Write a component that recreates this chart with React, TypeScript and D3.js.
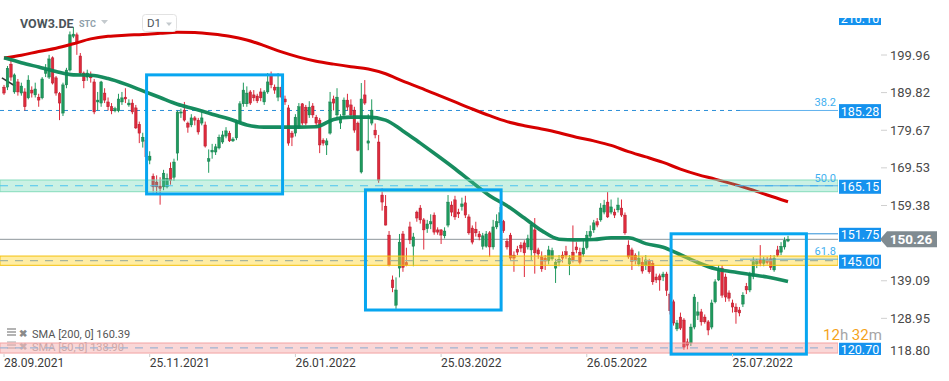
import React from "react";
import * as d3 from "d3";

// [open, high, low, close]
const candles: [number, number, number, number][] = [
  [191.3, 191.9, 189.2, 189.7], [191.3, 197.0, 190.5, 196.4], [197.5, 198.6, 193.0, 194.0], [190.0, 195.0, 189.5, 194.6],
  [192.7, 193.5, 189.0, 190.0], [189.7, 192.5, 189.0, 191.6], [190.0, 191.0, 185.0, 186.0], [188.4, 194.5, 188.0, 193.2],
  [190.5, 191.5, 188.5, 189.7], [189.2, 192.5, 188.5, 190.8], [188.6, 189.5, 186.0, 187.8], [188.4, 194.0, 188.0, 193.5],
  [195.0, 197.5, 194.0, 195.9], [194.0, 200.0, 193.5, 198.9], [199.2, 199.6, 192.0, 192.4], [193.8, 194.3, 189.0, 189.7],
  [189.5, 190.0, 182.4, 187.0], [184.3, 192.5, 183.5, 191.9], [191.9, 196.5, 191.0, 195.9], [195.9, 206.3, 195.5, 205.4],
  [205.0, 207.5, 204.5, 205.6], [205.4, 206.0, 200.0, 203.5], [199.7, 200.5, 194.5, 195.1], [195.1, 195.5, 191.0, 193.0],
  [194.0, 196.0, 193.0, 195.1], [194.6, 195.5, 192.5, 193.8], [192.7, 193.5, 184.0, 184.6], [187.3, 190.0, 185.0, 187.8],
  [187.0, 193.0, 186.0, 192.7], [189.7, 191.0, 187.0, 187.8], [187.3, 188.5, 185.0, 186.0], [186.0, 187.0, 184.0, 184.9],
  [184.9, 186.0, 184.5, 185.5], [184.9, 189.5, 184.5, 188.1], [187.3, 190.0, 186.5, 188.4], [188.6, 191.0, 187.0, 188.1],
  [186.5, 188.0, 186.0, 187.0], [187.0, 188.0, 184.0, 184.6], [185.7, 186.5, 180.0, 180.3], [181.3, 182.0, 176.2, 178.9],
  [176.7, 179.0, 175.0, 177.8], [177.0, 177.5, 171.0, 172.5], [171.6, 174.0, 170.5, 172.7], [167.3, 168.0, 162.9, 164.4],
  [165.7, 167.5, 162.7, 164.4], [164.6, 167.0, 159.6, 164.0], [164.4, 169.0, 163.5, 168.1], [164.4, 168.0, 164.0, 166.7],
  [169.4, 171.0, 165.0, 166.2], [167.0, 172.0, 166.0, 171.1], [173.5, 185.0, 171.5, 184.6], [184.3, 185.5, 183.0, 184.6],
  [185.1, 187.3, 182.0, 182.4], [181.6, 182.0, 179.0, 180.5], [181.1, 184.0, 180.5, 183.0], [183.0, 183.5, 181.0, 182.4],
  [182.4, 183.0, 178.5, 179.2], [181.6, 184.6, 181.0, 183.0], [181.1, 182.0, 175.0, 175.4], [171.3, 174.5, 168.2, 172.0],
  [173.8, 176.0, 172.0, 174.3], [173.8, 176.0, 173.0, 175.2], [174.9, 178.5, 174.5, 177.8], [176.5, 179.5, 176.0, 178.4],
  [178.1, 180.5, 177.5, 179.5], [178.9, 179.5, 176.5, 176.8], [176.8, 177.8, 176.5, 177.3], [177.6, 182.5, 177.0, 181.9],
  [181.9, 187.5, 181.5, 186.8], [186.8, 192.5, 186.0, 190.5], [186.8, 191.5, 186.0, 189.7], [190.0, 190.5, 186.5, 187.0],
  [189.2, 190.5, 187.5, 188.4], [188.9, 189.5, 187.0, 187.6], [190.0, 191.0, 187.5, 188.4], [187.3, 190.5, 186.5, 190.0],
  [190.0, 195.1, 189.5, 192.7], [194.6, 195.5, 191.0, 191.9], [191.3, 192.0, 189.5, 190.5], [188.6, 195.1, 187.5, 191.3],
  [191.3, 192.0, 188.0, 188.6], [188.1, 189.0, 186.5, 187.3], [185.7, 186.5, 175.5, 176.2], [178.9, 179.5, 175.4, 177.8],
  [178.9, 184.0, 178.0, 183.2], [180.5, 187.0, 180.0, 186.0], [186.8, 187.0, 181.0, 181.6], [185.9, 186.5, 181.0, 181.6],
  [183.8, 187.5, 183.0, 185.9], [186.2, 187.0, 183.0, 183.8], [183.2, 183.8, 181.0, 181.6], [182.4, 183.0, 173.5, 175.7],
  [177.0, 177.5, 175.5, 176.2], [175.7, 177.5, 173.0, 176.8], [178.9, 190.0, 178.5, 187.3], [188.1, 189.0, 185.0, 187.0],
  [183.8, 191.0, 183.0, 188.6], [181.6, 184.0, 180.0, 183.0], [183.8, 188.5, 183.0, 187.8], [187.8, 189.5, 185.0, 185.9],
  [186.5, 188.0, 183.0, 183.8], [185.1, 186.0, 179.0, 179.7], [181.6, 182.0, 174.0, 174.3], [168.4, 192.4, 168.0, 188.1],
  [189.2, 193.2, 186.5, 187.0], [176.2, 184.0, 174.3, 176.8], [181.6, 188.0, 181.0, 185.1], [179.7, 181.5, 177.5, 178.4],
  [176.5, 178.4, 165.5, 166.2], [162.2, 164.0, 158.0, 160.3], [159.2, 162.2, 154.0, 154.1], [151.4, 152.5, 143.0, 143.3],
  [139.3, 140.5, 136.0, 137.2], [132.5, 140.0, 131.5, 136.6], [142.5, 151.7, 140.0, 149.5], [151.7, 152.5, 141.5, 142.7],
  [144.0, 148.0, 143.0, 143.3], [153.6, 155.0, 149.0, 150.1], [148.4, 152.0, 143.0, 150.9], [157.6, 158.0, 155.0, 156.0],
  [158.7, 159.5, 154.5, 155.5], [155.5, 156.0, 147.5, 152.8], [153.1, 155.5, 152.0, 154.4], [154.4, 157.0, 153.0, 155.0],
  [156.8, 157.5, 151.5, 152.2], [152.8, 153.5, 151.5, 152.2], [152.8, 153.0, 149.0, 151.4], [151.2, 153.5, 150.5, 152.5],
  [154.1, 162.2, 153.5, 160.3], [159.5, 160.5, 156.5, 157.6], [160.9, 162.0, 155.5, 156.3], [157.6, 158.5, 156.0, 157.1],
  [159.1, 161.5, 158.0, 159.8], [160.1, 162.0, 156.0, 156.8], [156.3, 157.0, 151.5, 152.0], [153.3, 154.0, 148.9, 149.5],
  [153.0, 155.0, 151.0, 152.0], [151.7, 152.5, 150.0, 150.9], [148.4, 152.0, 147.5, 151.2], [148.4, 152.5, 148.0, 151.7],
  [152.0, 152.5, 145.5, 148.2], [148.2, 155.5, 147.5, 153.6], [153.6, 157.0, 153.0, 155.0], [154.7, 159.0, 154.0, 157.4],
  [155.0, 155.5, 152.0, 152.6], [149.7, 150.5, 147.5, 148.2], [151.4, 152.0, 144.5, 145.2], [146.0, 147.0, 141.5, 145.2],
  [147.6, 148.5, 146.0, 146.8], [148.7, 149.5, 146.8, 147.9], [149.3, 150.0, 140.1, 146.6], [148.2, 151.5, 147.5, 150.4],
  [147.4, 155.0, 144.5, 154.1], [152.8, 156.0, 141.0, 146.6], [147.4, 148.0, 145.0, 146.3], [145.5, 147.0, 141.5, 142.3],
  [145.2, 146.0, 142.0, 144.4], [144.5, 148.5, 143.5, 147.4], [145.0, 148.0, 144.5, 147.2], [142.5, 145.0, 138.5, 144.1],
  [144.1, 146.0, 143.0, 144.9], [146.0, 147.0, 144.0, 145.2], [146.9, 148.5, 145.0, 146.0], [143.6, 146.0, 140.6, 145.2],
  [146.8, 154.0, 144.0, 144.7], [148.2, 149.5, 146.5, 147.4], [146.8, 148.0, 143.5, 144.1], [146.3, 150.2, 145.5, 147.9],
  [148.0, 152.5, 147.5, 151.4], [151.1, 154.0, 150.5, 152.4], [152.8, 155.5, 152.0, 154.7], [155.0, 156.0, 153.5, 154.1],
  [155.5, 160.0, 155.0, 158.7], [157.6, 160.9, 157.0, 159.5], [160.3, 163.0, 156.0, 156.3], [157.6, 161.0, 157.0, 159.0],
  [157.6, 158.5, 156.0, 156.8], [158.2, 161.5, 157.5, 159.5], [158.7, 161.0, 156.3, 156.8], [156.8, 157.5, 151.5, 152.0],
  [148.7, 150.0, 145.0, 145.5], [147.4, 148.0, 142.0, 144.2], [146.0, 146.5, 143.5, 144.7], [143.6, 147.0, 143.0, 145.2],
  [144.1, 145.5, 141.0, 141.7], [143.3, 146.0, 142.0, 144.7], [144.4, 145.0, 141.0, 141.5], [143.8, 144.5, 138.0, 138.8],
  [140.1, 141.0, 138.5, 139.3], [140.4, 141.0, 136.4, 139.3], [140.1, 141.5, 139.0, 140.9], [140.9, 141.5, 135.0, 136.5],
  [135.5, 136.0, 130.0, 131.0], [133.4, 134.0, 127.0, 127.7], [126.1, 128.5, 125.5, 127.7], [129.3, 130.5, 125.8, 126.3],
  [128.5, 129.0, 120.5, 121.2], [122.6, 123.5, 120.6, 121.7], [122.3, 127.5, 121.5, 126.6], [126.6, 135.5, 126.0, 134.7],
  [129.8, 133.4, 128.5, 130.7], [130.7, 131.5, 127.0, 128.0], [129.3, 130.0, 127.5, 128.0], [128.0, 128.5, 124.4, 125.8],
  [126.6, 134.0, 126.0, 133.1], [133.4, 139.5, 133.0, 138.8], [139.3, 143.3, 139.0, 142.0], [142.5, 143.3, 134.5, 135.2],
  [140.1, 141.0, 133.4, 134.7], [135.8, 136.5, 133.5, 134.4], [133.1, 134.0, 130.5, 132.0], [132.0, 133.0, 127.5, 130.7],
  [131.2, 132.0, 129.5, 130.4], [132.8, 136.0, 132.0, 135.2], [137.6, 138.5, 135.5, 136.6], [136.6, 141.5, 136.0, 140.9],
  [140.3, 145.5, 139.5, 144.2], [143.6, 145.0, 142.5, 144.4], [144.7, 148.7, 143.0, 143.8], [143.8, 145.5, 143.0, 144.7],
  [144.7, 145.5, 143.5, 144.0], [145.0, 146.0, 142.0, 142.7], [142.0, 146.0, 141.5, 145.2], [147.4, 148.5, 145.5, 146.0],
  [146.8, 149.5, 146.0, 148.4], [148.2, 150.8, 147.5, 149.9], [149.8, 151.2, 149.5, 150.26],
];

// [candle index, value]
const sma200: [number, number][] = [
  [0, 199.15], [5, 199.9], [10, 200.9], [15, 201.8], [20, 203.0], [25, 204.3], [30, 205.0], [35, 205.3], [40, 205.5],
  [45, 205.8], [50, 206.1], [55, 206.0], [60, 205.6], [65, 205.0], [70, 204.0], [75, 202.5], [80, 200.8], [85, 199.4],
  [90, 198.3], [95, 197.5], [100, 196.8], [105, 196.2], [110, 194.9], [115, 192.9], [120, 191.1], [125, 189.2],
  [130, 187.3], [135, 185.4], [140, 183.6], [145, 182.0], [150, 180.9], [155, 180.0], [160, 179.0], [165, 177.8],
  [170, 176.8], [175, 175.6], [180, 173.9], [185, 172.5], [190, 171.0], [195, 169.2], [200, 167.7], [205, 166.5],
  [210, 165.2], [215, 163.8], [220, 162.2], [226, 160.39],
];
const sma50: [number, number][] = [
  [0, 199.2], [5, 197.9], [10, 196.7], [15, 195.5], [20, 194.6], [25, 194.5], [30, 193.6], [35, 192.1], [40, 190.3],
  [45, 188.5], [50, 186.7], [55, 185.4], [60, 184.0], [65, 182.7], [70, 181.1], [75, 180.5], [80, 180.5], [85, 180.5],
  [90, 180.6], [95, 182.6], [100, 183.2], [105, 183.2], [110, 182.4], [115, 179.5], [120, 176.2], [125, 172.8],
  [130, 169.3], [135, 165.6], [140, 162.0], [145, 159.3], [150, 156.0], [155, 152.6], [160, 150.3], [165, 150.1],
  [170, 150.2], [175, 150.7], [180, 150.7], [185, 149.1], [190, 148.1], [195, 146.1], [200, 144.0], [205, 142.3],
  [210, 141.5], [215, 140.8], [220, 140.1], [226, 138.9],
];

const dateTicks = [
  { i: 0, label: "28.09.2021" }, { i: 42, label: "25.11.2021" }, { i: 84, label: "26.01.2022" },
  { i: 126, label: "25.03.2022" }, { i: 168, label: "26.05.2022" }, { i: 210, label: "25.07.2022" },
];
const priceTicks = [199.96, 189.82, 179.67, 169.53, 159.38, 139.09, 128.95, 118.8];

const zones = [
  { top: 166.25, bottom: 163.1, line: 164.7, fill: "#4fd1a5", op: 0.3, border: "#86dcbc", dash: "#4cc3ee" },
  { top: 145.75, bottom: 143.25, line: 144.5, fill: "#ffd633", op: 0.45, border: "#f4c20d", dash: "#a8b49a" },
  { top: 122.3, bottom: 119.6, line: 121.0, fill: "#f28b8b", op: 0.35, border: "#f2a3a3", dash: "#9fb4d2" },
];
const fibLevels = [
  { label: "38.2", value: 185.0, textValue: 187.4 },
  { label: "50.0", value: 164.7, textValue: 166.7 },
  { label: "61.8", value: 144.9, textValue: 147.0 },
];
const boxes = [
  { i0: 41.1, i1: 80.3, top: 194.6, bottom: 162.5 },
  { i0: 104.2, i1: 143.3, top: 163.6, bottom: 131.2 },
  { i0: 192.3, i1: 231.3, top: 151.75, bottom: 119.3 },
];
const priceLabels = [
  { value: 210.2, label: "210.10" },
  { value: 185.1, label: "185.28" },
  { value: 164.7, label: "165.15" },
  { value: 151.75, label: "151.75" },
  { value: 144.5, label: "145.00" },
  { value: 120.75, label: "120.70" },
];
const lastPrice = 150.26;
const trendSegment: [number, number, number, number] = [-0.6, 193.8, 3.2, 191.6];

const W = 949;
const H = 381;
const PLOT_R = 838;

export default function App() {
  const x = d3.scaleLinear().domain([0, 226]).range([4, 788]);
  const y = d3.scaleLinear().domain([118.8, 199.96]).range([356, 55]);
  const line = d3
    .line<[number, number]>()
    .x((d) => x(d[0]))
    .y((d) => y(d[1]))
    .curve(d3.curveMonotoneX);
  const font = "Roboto, 'Noto Sans', sans-serif";
  const green = "#1f9a5d";
  const red = "#de2a3b";
  const labelBlue = "#1592ee";

  return (
    <svg
      width={W}
      height={H}
      style={{ position: "fixed", left: 0, top: 0, background: "#fff" }}
      fontFamily={font}
    >
      <defs>
        <clipPath id="plot">
          <rect x={0} y={18} width={PLOT_R} height={338} />
        </clipPath>
        <clipPath id="lab">
          <rect x={PLOT_R} y={18} width={W - PLOT_R} height={337} />
        </clipPath>
      </defs>
      <rect x={0} y={0} width={W} height={H} fill="#fff" />

      {/* legend (under bands) */}
      <g fontSize={11}>
        {[0, 1].map((r) => (
          <g key={r} opacity={r === 0 ? 1 : 0.55}>
            <g stroke="#8a8a8a" strokeWidth={1.3}>
              <line x1={7} x2={16} y1={329 + r * 13} y2={329 + r * 13} />
              <line x1={7} x2={16} y1={332 + r * 13} y2={332 + r * 13} />
              <line x1={7} x2={16} y1={335 + r * 13} y2={335 + r * 13} />
            </g>
            <text x={19} y={337 + r * 13} fill="#8a8a8a" fontSize={10} fontWeight="bold">
              ✖
            </text>
            <text x={32} y={338 + r * 13} fill={r === 0 ? "#555" : "#777"}>
              {r === 0 ? "SMA  [200,  0]  160.39" : "SMA  [50,  0]  138.90"}
            </text>
          </g>
        ))}
      </g>

      <g clipPath="url(#plot)">
        {/* 38.2 dashed line */}
        <line x1={0} x2={740} y1={y(185.0)} y2={y(185.0)} stroke="#2c8fd8" strokeDasharray="4,4" strokeWidth={1} />
        {/* trend segment */}
        <line
          x1={x(trendSegment[0])}
          y1={y(trendSegment[1])}
          x2={x(trendSegment[2])}
          y2={y(trendSegment[3])}
          stroke="#333"
          strokeWidth={1.5}
        />
        {/* current price line */}
        <line x1={0} x2={PLOT_R} y1={y(lastPrice)} y2={y(lastPrice)} stroke="#8d969b" strokeWidth={1} />

        {/* candles */}
        {candles.map((c, i) => {
          const [o, h, l, cl] = c;
          const up = cl >= o;
          const col = up ? green : red;
          const cx = x(i);
          const top = y(Math.max(o, cl));
          const bot = y(Math.min(o, cl));
          return (
            <g key={i}>
              <line x1={cx} x2={cx} y1={y(h)} y2={y(l)} stroke={col} strokeWidth={1} />
              <rect
                x={cx - 1.3}
                y={top}
                width={2.6}
                height={Math.max(1, bot - top)}
                fill={col}
                stroke={up ? "#137449" : "#a8172a"}
                strokeWidth={0.4}
              />
            </g>
          );
        })}

        {/* SMAs */}
        <path d={line(sma200) || ""} fill="none" stroke="#d60000" strokeWidth={3} />
        <path d={line(sma50) || ""} fill="none" stroke="#0b8656" strokeWidth={3.6} opacity={0.95} />

        {/* zones */}
        {zones.map((z, k) => (
          <g key={k}>
            <rect
              x={0}
              y={y(z.top)}
              width={PLOT_R}
              height={y(z.bottom) - y(z.top)}
              fill={z.fill}
              fillOpacity={z.op}
              stroke={z.border}
              strokeWidth={1}
            />
            <line x1={0} x2={PLOT_R} y1={y(z.line)} y2={y(z.line)} stroke={z.dash} strokeDasharray="8,7" strokeWidth={1.2} />
          </g>
        ))}

        {/* fib level lines & labels */}
        {fibLevels.map((f) => (
          <g key={f.label}>
            <line x1={740} x2={PLOT_R} y1={y(f.value)} y2={y(f.value)} stroke="#3aa0ea" strokeWidth={1} opacity={0.8} />
            <text x={836} y={y(f.textValue) + 4} textAnchor="end" fontSize={11} fill="#3fb0f0">
              {f.label}
            </text>
          </g>
        ))}
        <line x1={x(192.3)} x2={PLOT_R} y1={y(151.75)} y2={y(151.75)} stroke="#2c8fd8" strokeWidth={1} />

        {/* rectangles */}
        {boxes.map((b, k) => (
          <rect
            key={k}
            x={x(b.i0)}
            y={y(b.top)}
            width={x(b.i1) - x(b.i0)}
            height={y(b.bottom) - y(b.top)}
            fill="none"
            stroke="#07a6f0"
            strokeWidth={3}
          />
        ))}
      </g>

      {/* right price axis */}
      <g fontSize={13} fill="#4a4a4a">
        {priceTicks.map((t) => {
          const ty = y(t);
          const clamped = ty > 352;
          return (
            <g key={t}>
              {!clamped && <line x1={881} x2={887} y1={ty} y2={ty} stroke="#d0d0d0" />}
              <text x={890} y={Math.min(ty, 350) + 4.5}>
                {t.toFixed(2)}
              </text>
            </g>
          );
        })}
      </g>

      {/* price label boxes */}
      <g clipPath="url(#lab)">
        {priceLabels.map((p) => {
          const py = y(p.value) + 1;
          return (
            <g key={p.label}>
              <rect x={839} y={py - 7} width={42} height={14} fill={labelBlue} />
              <text x={860} y={py + 4.5} textAnchor="middle" fontSize={12.5} fill="#fff">
                {p.label}
              </text>
            </g>
          );
        })}
      </g>

      {/* last price box */}
      {(() => {
        const py = y(lastPrice);
        return (
          <g>
            <path
              d={`M880,${py} L887,${py - 8} L937,${py - 8} L937,${py + 8} L887,${py + 8} Z`}
              fill="#808b91"
            />
            <text x={911} y={py + 5} textAnchor="middle" fontSize={13.5} fontWeight="bold" fill="#fff">
              {lastPrice.toFixed(2)}
            </text>
          </g>
        );
      })()}

      {/* countdown */}
      <text x={823} y={339.5} fontSize={15}>
        <tspan fill="#f5a31a">12</tspan>
        <tspan fill="#a5a5a5">h </tspan>
        <tspan fill="#f5a31a">32</tspan>
        <tspan fill="#a5a5a5">m</tspan>
      </text>

      {/* date axis */}
      <g fontSize={12} fill="#3a3a3a">
        {dateTicks.map((d) => (
          <g key={d.label}>
            <line x1={x(d.i)} x2={x(d.i)} y1={354} y2={357} stroke="#ccc" />
            <text x={x(d.i)} y={367}>
              {d.label}
            </text>
          </g>
        ))}
      </g>

      {/* header */}
      <g>
        <text x={20} y={28} fontSize={12.5} fontWeight="bold" fill="#4b5459">
          VOW3.DE
        </text>
        <text x={79} y={27} fontSize={9} fontWeight="bold" fill="#8fa0aa">
          STC
        </text>
        <path d="M101,20 L108,20 L104.5,24 Z" fill="#c4cace" />
        <rect x={142.5} y={14.5} width={34} height={17} rx={3} fill="#fff" stroke="#e2e2e2" />
        <text x={147} y={27} fontSize={11.5} fill="#4b5459">
          D1
        </text>
        <path d="M166,22.5 L172,22.5 L169,26 Z" fill="#c4cace" />
      </g>
    </svg>
  );
}
